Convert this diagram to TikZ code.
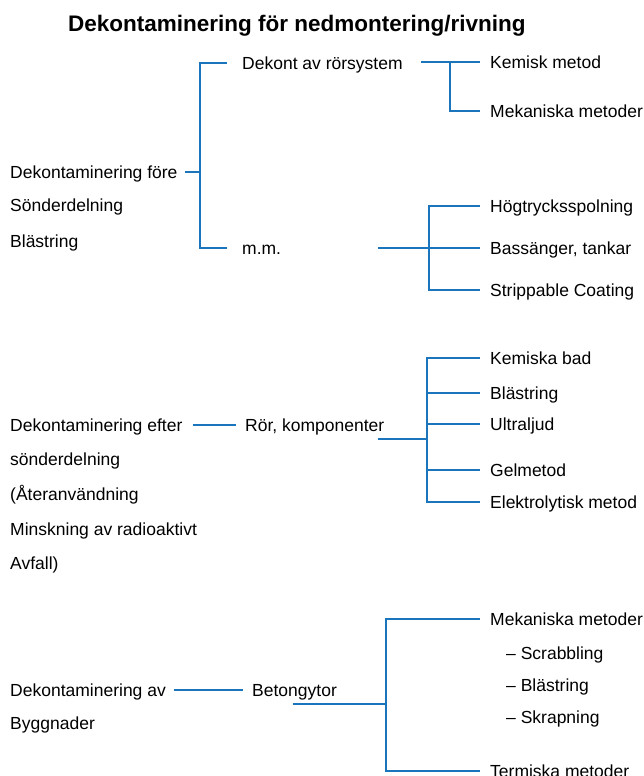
\documentclass[tikz,border=0pt]{standalone}
\usepackage{fontspec}
\setmainfont{Liberation Sans}
\usetikzlibrary{positioning}

\definecolor{linkblue}{HTML}{1B75BC}
\tikzset{
  lbl/.style={anchor=west, inner sep=0pt, text height=12.5pt, text depth=0pt, font=\fontsize{17.5}{20}\selectfont},
  link/.style={draw=linkblue, line width=1.7pt},
}

\begin{document}
\begin{tikzpicture}[x=1pt, y=-1pt]
\useasboundingbox (0,0) rectangle (643,776);

\node[anchor=base west, inner sep=0pt, font=\bfseries\fontsize{22.5}{26}\selectfont] (title) at (68,32) {Dekontaminering för nedmontering/rivning};

% fore sonderdelning
\node[lbl] (fore)   at (10,172)  {Dekontaminering före};
\node[lbl] (sond)   at (10,205)  {Sönderdelning};
\node[lbl] (blast)  at (10,241)  {Blästring};

\node[lbl] (dekont) at (242,63)  {Dekont av rörsystem};
\node[lbl] (mm)     at (242,248) {m.m.};

\node[lbl] (kemisk) at (490,62)  {Kemisk metod};
\node[lbl] (mekan)  at (490,111) {Mekaniska metoder};
\node[lbl] (hogtr)  at (490,206) {Högtrycksspolning};
\node[lbl] (bass)   at (490,248) {Bassänger, tankar};
\node[lbl] (strip)  at (490,290) {Strippable Coating};

\coordinate (j1) at (200,172);
\coordinate (s2) at (421,62);
\coordinate (j2) at (450,62);
\coordinate (s3) at (378,248);
\coordinate (j3) at (429,248);

\draw[link] ([xshift=7pt]fore.east) -- (j1);
\draw[link] ([xshift=-15pt]dekont.west) -| (j1) |- ([xshift=-15pt]mm.west);

\draw[link] (s2) -- ([xshift=-10pt]kemisk.west);
\draw[link] (j2) |- ([xshift=-10pt]mekan.west);

\draw[link] (s3) -- ([xshift=-10pt]bass.west);
\draw[link] ([xshift=-10pt]hogtr.west) -| (j3) |- ([xshift=-10pt]strip.west);

% efter sonderdelning
\node[lbl] (efter)  at (10,425)  {Dekontaminering efter};
\node[lbl] (sond2)  at (10,459)  {sönderdelning};
\node[lbl] (ater)   at (10,494)  {(Återanvändning};
\node[lbl] (minsk)  at (10,529)  {Minskning av radioaktivt};
\node[lbl] (avfall) at (10,563)  {Avfall)};

\node[lbl] (rorkomp) at (245,425) {Rör, komponenter};

\node[lbl] (kbad)   at (490,358) {Kemiska bad};
\node[lbl] (blast2) at (490,393) {Blästring};
\node[lbl] (ultra)  at (490,424) {Ultraljud};
\node[lbl] (gel)    at (490,470) {Gelmetod};
\node[lbl] (elek)   at (490,502) {Elektrolytisk metod};

\coordinate (s4) at (378,439);
\coordinate (j4) at (427,439);

\draw[link] ([xshift=10pt]efter.east) -- ([xshift=-9pt]rorkomp.west);
\draw[link] (s4) -- (j4);
\draw[link] ([xshift=-10pt]kbad.west) -| (j4) |- ([xshift=-10pt]elek.west);
\foreach \n in {blast2, ultra, gel}
  \draw[link] (j4 |- \n.west) -- ([xshift=-10pt]\n.west);

% byggnader
\node[lbl] (dav)    at (10,690)  {Dekontaminering av};
\node[lbl] (bygg)   at (10,723)  {Byggnader};

\node[lbl] (beton)  at (252,690) {Betongytor};

\node[lbl] (mek2)   at (490,619) {Mekaniska metoder};
\node[lbl] (scrab)  at (506,653) {– Scrabbling};
\node[lbl] (blast3) at (506,685) {– Blästring};
\node[lbl] (skrap)  at (506,717) {– Skrapning};
\node[lbl] (term)   at (490,771) {Termiska metoder};

\coordinate (s5) at (293,704);
\coordinate (j5) at (386,704);

\draw[link] ([xshift=8pt]dav.east) -- ([xshift=-9pt]beton.west);
\draw[link] (s5) -- (j5);
\draw[link] ([xshift=-10pt]mek2.west) -| (j5) |- ([xshift=-10pt]term.west);

\end{tikzpicture}
\end{document}
